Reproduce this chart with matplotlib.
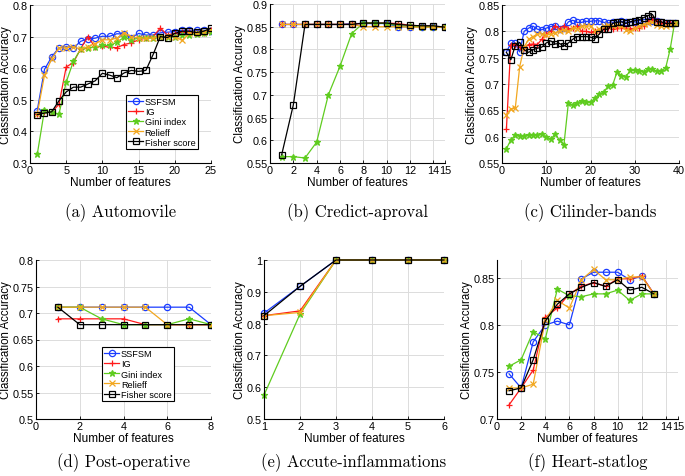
import matplotlib
matplotlib.use("Agg")
import matplotlib.pyplot as plt
import numpy as np

plt.rcParams['font.family'] = ['Liberation Sans', 'DejaVu Sans']

methods = ["SSFSM", "IG", "Gini index", "Relieff", "Fisher score"]

# (a) Automovile
a_x = list(range(1, 26))
a_ssfsm = [0.466, 0.596, 0.636, 0.665, 0.668, 0.664, 0.685, 0.693, 0.695, 0.701, 0.701, 0.709, 0.708, 0.697, 0.710, 0.705, 0.705, 0.712, 0.714, 0.716, 0.720, 0.720, 0.720, 0.720, 0.717]
a_ig = [0.455, 0.460, 0.460, 0.486, 0.604, 0.618, 0.662, 0.700, 0.666, 0.670, 0.666, 0.665, 0.675, 0.680, 0.690, 0.695, 0.700, 0.727, 0.705, 0.710, 0.715, 0.715, 0.710, 0.710, 0.720]
a_gini = [0.327, 0.468, 0.460, 0.455, 0.556, 0.622, 0.660, 0.665, 0.667, 0.672, 0.672, 0.682, 0.698, 0.690, 0.695, 0.695, 0.695, 0.698, 0.698, 0.700, 0.705, 0.705, 0.708, 0.710, 0.715]
a_relief = [0.455, 0.578, 0.630, 0.664, 0.664, 0.668, 0.660, 0.668, 0.678, 0.690, 0.690, 0.695, 0.712, 0.700, 0.695, 0.695, 0.695, 0.700, 0.700, 0.700, 0.688, 0.710, 0.710, 0.715, 0.720]
a_fisher = [0.453, 0.458, 0.462, 0.497, 0.525, 0.540, 0.540, 0.550, 0.560, 0.584, 0.578, 0.570, 0.585, 0.593, 0.590, 0.593, 0.643, 0.700, 0.697, 0.710, 0.717, 0.717, 0.713, 0.717, 0.727]

# (b) Credict-aproval
b_x = list(range(1, 16))
b_ssfsm = [0.855, 0.855, 0.855, 0.855, 0.855, 0.855, 0.857, 0.857, 0.857, 0.857, 0.850, 0.850, 0.850, 0.850, 0.849]
b_ig = [0.855, 0.855, 0.855, 0.855, 0.855, 0.855, 0.855, 0.858, 0.858, 0.858, 0.857, 0.853, 0.852, 0.851, 0.849]
b_gini = [0.564, 0.564, 0.561, 0.596, 0.700, 0.763, 0.835, 0.858, 0.858, 0.857, 0.852, 0.851, 0.850, 0.850, 0.849]
b_relief = [0.855, 0.855, 0.855, 0.855, 0.855, 0.855, 0.855, 0.850, 0.850, 0.850, 0.850, 0.849, 0.849, 0.849, 0.849]
b_fisher = [0.568, 0.678, 0.855, 0.855, 0.855, 0.855, 0.855, 0.858, 0.858, 0.858, 0.855, 0.853, 0.852, 0.852, 0.849]

# (c) Cilinder-bands
c_x = list(range(1, 40))
c_ssfsm = [0.761, 0.777, 0.777, 0.761, 0.800, 0.806, 0.810, 0.804, 0.803, 0.806, 0.809, 0.811, 0.805, 0.806, 0.818, 0.821, 0.817, 0.817, 0.819, 0.819, 0.820, 0.820, 0.817, 0.816, 0.817, 0.818, 0.819, 0.817, 0.818, 0.818, 0.816, 0.818, 0.820, 0.820, 0.819, 0.817, 0.816, 0.816, 0.816]
c_ig = [0.615, 0.775, 0.775, 0.770, 0.768, 0.775, 0.776, 0.775, 0.785, 0.795, 0.800, 0.810, 0.805, 0.810, 0.805, 0.806, 0.810, 0.800, 0.800, 0.798, 0.800, 0.800, 0.805, 0.806, 0.804, 0.806, 0.806, 0.806, 0.805, 0.806, 0.806, 0.810, 0.820, 0.823, 0.820, 0.815, 0.815, 0.815, 0.815]
c_gini = [0.577, 0.594, 0.603, 0.601, 0.602, 0.604, 0.603, 0.604, 0.605, 0.599, 0.595, 0.605, 0.593, 0.585, 0.664, 0.660, 0.664, 0.668, 0.666, 0.665, 0.673, 0.681, 0.685, 0.696, 0.698, 0.723, 0.716, 0.714, 0.726, 0.726, 0.725, 0.723, 0.728, 0.728, 0.724, 0.725, 0.731, 0.766, 0.816]
c_relief = [0.642, 0.653, 0.654, 0.733, 0.770, 0.785, 0.790, 0.795, 0.795, 0.793, 0.795, 0.797, 0.800, 0.803, 0.800, 0.806, 0.805, 0.810, 0.810, 0.810, 0.800, 0.805, 0.810, 0.812, 0.810, 0.812, 0.810, 0.803, 0.800, 0.806, 0.810, 0.813, 0.815, 0.818, 0.812, 0.810, 0.810, 0.812, 0.815]
c_fisher = [0.760, 0.746, 0.773, 0.779, 0.765, 0.760, 0.765, 0.768, 0.770, 0.778, 0.782, 0.776, 0.777, 0.772, 0.778, 0.785, 0.790, 0.790, 0.790, 0.789, 0.786, 0.795, 0.804, 0.804, 0.815, 0.817, 0.818, 0.815, 0.818, 0.820, 0.822, 0.826, 0.830, 0.832, 0.818, 0.818, 0.815, 0.815, 0.815]

# (d) Post-operative
d_x = list(range(1, 9))
d_ssfsm = [0.711, 0.711, 0.711, 0.711, 0.711, 0.711, 0.711, 0.678]
d_ig = [0.689, 0.689, 0.689, 0.689, 0.678, 0.678, 0.678, 0.678]
d_gini = [0.711, 0.711, 0.689, 0.678, 0.678, 0.678, 0.689, 0.678]
d_relief = [0.711, 0.711, 0.711, 0.711, 0.711, 0.678, 0.678, 0.678]
d_fisher = [0.711, 0.678, 0.678, 0.678, 0.678, 0.678, 0.678, 0.678]

# (e) Accute-inflammations
e_x = list(range(1, 7))
e_ssfsm = [0.833, 0.917, 1.0, 1.0, 1.0, 1.0]
e_ig = [0.825, 0.840, 1.0, 1.0, 1.0, 1.0]
e_gini = [0.575, 0.830, 1.0, 1.0, 1.0, 1.0]
e_relief = [0.825, 0.835, 1.0, 1.0, 1.0, 1.0]
e_fisher = [0.825, 0.917, 1.0, 1.0, 1.0, 1.0]

# (f) Heart-statlog
f_x = list(range(1, 14))
f_ssfsm = [0.748, 0.733, 0.782, 0.800, 0.804, 0.800, 0.849, 0.856, 0.856, 0.856, 0.848, 0.852, 0.833]
f_ig = [0.715, 0.733, 0.752, 0.808, 0.818, 0.833, 0.841, 0.845, 0.841, 0.849, 0.849, 0.852, 0.833]
f_gini = [0.756, 0.763, 0.793, 0.785, 0.838, 0.831, 0.830, 0.833, 0.833, 0.837, 0.826, 0.833, 0.833]
f_relief = [0.733, 0.733, 0.737, 0.805, 0.826, 0.818, 0.848, 0.859, 0.848, 0.848, 0.851, 0.851, 0.833]
f_fisher = [0.730, 0.733, 0.763, 0.804, 0.822, 0.833, 0.840, 0.845, 0.841, 0.848, 0.837, 0.840, 0.833]

captions = ["(a) Automovile", "(b) Credict-aproval", "(c) Cilinder-bands",
            "(d) Post-operative", "(e) Accute-inflammations", "(f) Heart-statlog"]

colors = ["#1a3cff", "#ff1a1a", "#5fcc1f", "#f2a71f", "#000000"]
styles = [dict(marker='o', mfc='none', ms=4.5, mew=0.9),
          dict(marker='+', ms=5, mew=0.9),
          dict(marker='*', ms=4.5, mew=0.9),
          dict(marker='x', ms=4, mew=0.9),
          dict(marker='s', mfc='none', ms=4, mew=0.9)]

W, H = 685, 477
fig = plt.figure(figsize=(W / 100, H / 100), dpi=100)

def add_ax(l, r, t, b):
    return fig.add_axes([l / W, 1 - b / H, (r - l) / W, (b - t) / H])

panels = [
    dict(box=(30, 211, 6, 164), x=a_x, ys=[a_ssfsm, a_ig, a_gini, a_relief, a_fisher],
         xlim=(0, 25), xt=[0, 5, 10, 15, 20, 25], ylim=(0.3, 0.8), yt=[0.3, 0.4, 0.5, 0.6, 0.7, 0.8],
         yfmt="{:.1f}", legend=(0.53, 0.089)),
    dict(box=(270, 445, 5, 164), x=b_x, ys=[b_ssfsm, b_ig, b_gini, b_relief, b_fisher],
         xlim=(0, 15), xt=[0, 2, 4, 6, 8, 10, 12, 14, 15], ylim=(0.55, 0.9),
         yt=[0.55, 0.6, 0.65, 0.7, 0.75, 0.8, 0.85, 0.9], yfmt=None, legend=None),
    dict(box=(502, 679, 6, 164), x=c_x, ys=[c_ssfsm, c_ig, c_gini, c_relief, c_fisher],
         xlim=(0, 40), xt=[0, 10, 20, 30, 40], ylim=(0.55, 0.85),
         yt=[0.55, 0.6, 0.65, 0.7, 0.75, 0.8, 0.85], yfmt=None, legend=None),
    dict(box=(36, 211, 261, 420), x=d_x, ys=[d_ssfsm, d_ig, d_gini, d_relief, d_fisher],
         xlim=(0, 8), xt=[0, 2, 4, 6, 8], ylim=(0.5, 0.8),
         yt=[0.5, 0.55, 0.6, 0.65, 0.7, 0.75, 0.8], yfmt=None, legend=(0.377, 0.113)),
    dict(box=(264, 444, 261, 420), x=e_x, ys=[e_ssfsm, e_ig, e_gini, e_relief, e_fisher],
         xlim=(1, 6), xt=[1, 2, 3, 4, 5, 6], ylim=(0.5, 1.0),
         yt=[0.5, 0.6, 0.7, 0.8, 0.9, 1.0], yfmt="e", legend=None),
    dict(box=(497, 678, 261, 420), x=f_x, ys=[f_ssfsm, f_ig, f_gini, f_relief, f_fisher],
         xlim=(0, 15), xt=[0, 2, 4, 6, 8, 10, 12, 14, 15], ylim=(0.7, 0.869),
         yt=[0.7, 0.75, 0.8, 0.85], yfmt=None, legend=None),
]

def fmt(v, mode):
    if mode == "e":
        return "1" if abs(v - 1) < 1e-9 else "{:.1f}".format(v)
    if mode:
        return mode.format(v)
    s = "{:.2f}".format(v)
    if s.endswith("0"):
        s = s[:-1]
    return s

for i, p in enumerate(panels):
    ax = add_ax(*p["box"])
    for j, (y, c, st) in enumerate(zip(p["ys"], colors, styles)):
        ax.plot(p["x"], y, color=c, lw=0.9, label=methods[j], mec=c, **st, clip_on=False if i == 4 else True)
    ax.set_xlim(*p["xlim"])
    ax.set_ylim(*p["ylim"])
    ax.set_xticks(p["xt"])
    ax.set_xticklabels([str(v) for v in p["xt"]])
    ax.set_yticks(p["yt"])
    ax.set_yticklabels([fmt(v, p["yfmt"]) for v in p["yt"]])
    ax.grid(True, color="#dcdcdc", lw=0.7)
    ax.set_axisbelow(True)
    for s in ["top", "right"]:
        ax.spines[s].set_visible(False)
    for s in ["left", "bottom"]:
        ax.spines[s].set_linewidth(0.8)
    ax.tick_params(direction='in', length=2.5, width=0.6, labelsize=7.8, pad=1.5)
    ax.set_xlabel("Number of features", fontsize=8.5, labelpad=1)
    ax.set_ylabel("Classification Accuracy", fontsize=8.3, labelpad=0.5)
    if p["legend"] is not None:
        leg = ax.legend(loc='lower left', bbox_to_anchor=p["legend"], fontsize=6.6,
                        frameon=True, fancybox=False, edgecolor='black', framealpha=1,
                        handlelength=1.6, handletextpad=0.2, labelspacing=0.12,
                        borderpad=0.25, borderaxespad=0)
        leg.get_frame().set_linewidth(0.8)
    l, r, t, b = p["box"]
    cy = 213 if i < 3 else 463
    fig.text(((l + r) / 2) / W, 1 - cy / H, captions[i], ha='center', va='center',
             fontsize=12, family='cmr10')

fig.savefig("out.png", dpi=100)
